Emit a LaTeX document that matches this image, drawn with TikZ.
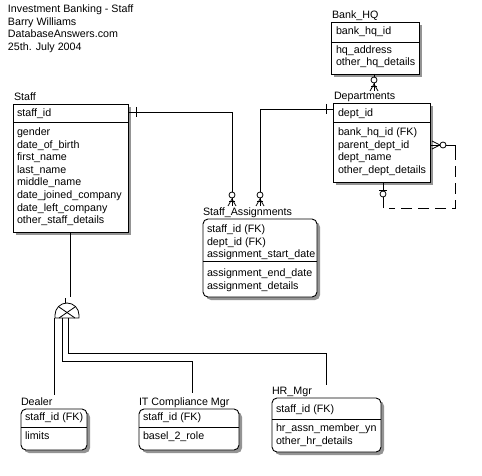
\documentclass[tikz,border=0pt]{standalone}
\usepackage{fontspec}
\setmainfont{Liberation Sans}
\usetikzlibrary{shadows,calc}
\begin{document}
\begin{tikzpicture}[x=1pt,y=-1pt,line width=0.8pt,
  every node/.style={inner sep=0pt,outer sep=0pt},
  txt/.style={anchor=base west,font=\fontsize{10.7}{12.5}\selectfont},
  ebox/.style={draw,fill=white,anchor=north west,line width=0.9pt,
    drop shadow={shadow xshift=3pt,shadow yshift=-3pt,fill=black!42,opacity=1}},
  rbox/.style={ebox,rounded corners=5pt},
  conn/.style={line width=0.8pt},
  nonid/.style={line width=0.8pt,dash pattern=on 11pt off 6pt},
  zmany/.pic={
    \draw[line width=0.8pt] (-4,0) -- (0,-7) -- (4,0);
    \draw[line width=0.8pt] (-3,-5) -- (3,-5);
    \draw[line width=0.8pt,fill=white] (0,-11) circle[radius=3];
  }
]
\fill[white] (0,0) rectangle (482,476);
\useasboundingbox (0,0) rectangle (482,476);

% title
\node[txt] (title1) at (8,13) {Investment Banking - Staff};
\node[txt] (title2) at (8,25.5) {Barry Williams};
\node[txt] (title3) at (8,38) {DatabaseAnswers.com};
\node[txt] (title4) at (8,50.5) {25th. July 2004};

% Staff
\node[ebox,minimum width=115,minimum height=128] (staff) at (13,104) {};
\draw[line width=0.9pt] (13,122) -- (128,122);
\node[txt] (staffL) at (14,101) {Staff};
\node[txt] (staff0) at (17,116.5) {staff\_id};
\node[txt] (staff1) at (17,135.5) {gender};
\node[txt] (staff2) at (17,148.1) {date\_of\_birth};
\node[txt] (staff3) at (17,160.7) {first\_name};
\node[txt] (staff4) at (17,173.3) {last\_name};
\node[txt] (staff5) at (17,185.9) {middle\_name};
\node[txt] (staff6) at (17,198.5) {date\_joined\_company};
\node[txt] (staff7) at (17,211.1) {date\_left\_company};
\node[txt] (staff8) at (17,223.7) {other\_staff\_details};

% Bank_HQ
\node[ebox,minimum width=88,minimum height=52] (bank) at (331,22) {};
\draw[line width=0.9pt] (331,42) -- (419,42);
\node[txt] (bankL) at (332,18.5) {Bank\_HQ};
\node[txt] (bank0) at (336,34.5) {bank\_hq\_id};
\node[txt] (bank1) at (336,53.5) {hq\_address};
\node[txt] (bank2) at (336,66) {other\_hq\_details};

% Departments
\node[ebox,minimum width=97,minimum height=79] (dept) at (333,103) {};
\draw[line width=0.9pt] (333,122) -- (430,122);
\node[txt] (deptL) at (334,100) {Departments};
\node[txt] (dept0) at (338,116.5) {dept\_id};
\node[txt] (dept1) at (338,135.5) {bank\_hq\_id (FK)};
\node[txt] (dept2) at (338,148.1) {parent\_dept\_id};
\node[txt] (dept3) at (338,160.7) {dept\_name};
\node[txt] (dept4) at (338,173.3) {other\_dept\_details};

% Staff_Assignments
\node[rbox,minimum width=114,minimum height=78] (sa) at (203,219) {};
\draw[line width=0.9pt] (203,261) -- (317,261);
\node[txt] (saL) at (203,215.5) {Staff\_Assignments};
\node[txt] (sa0) at (207,232.5) {staff\_id (FK)};
\node[txt] (sa1) at (207,245.1) {dept\_id (FK)};
\node[txt] (sa2) at (207,257.5) {assignment\_start\_date};
\node[txt] (sa3) at (207,276.5) {assignment\_end\_date};
\node[txt] (sa4) at (207,289.1) {assignment\_details};

% Dealer
\node[rbox,minimum width=66,minimum height=41] (dealer) at (21,409) {};
\draw[line width=0.9pt] (21,427) -- (87,427);
\node[txt] (dealerL) at (21,405) {Dealer};
\node[txt] (dealer0) at (25,420.5) {staff\_id (FK)};
\node[txt] (dealer1) at (25,439.5) {limits};

% IT Compliance Mgr
\node[rbox,minimum width=100,minimum height=41] (itm) at (139,409) {};
\draw[line width=0.9pt] (139,427) -- (239,427);
\node[txt] (itmL) at (139,405) {IT Compliance Mgr};
\node[txt] (itm0) at (143,420.5) {staff\_id (FK)};
\node[txt] (itm1) at (143,439.5) {basel\_2\_role};

% HR_Mgr
\node[rbox,minimum width=109,minimum height=54] (hr) at (272,398) {};
\draw[line width=0.9pt] (272,419) -- (381,419);
\node[txt] (hrL) at (272,394.5) {HR\_Mgr};
\node[txt] (hr0) at (276,412) {staff\_id (FK)};
\node[txt] (hr1) at (276,431.5) {hr\_assn\_member\_yn};
\node[txt] (hr2) at (276,444) {other\_hr\_details};

% connector end points
\coordinate (saA) at (232,206);
\coordinate (saB) at (260,206);
\coordinate (deptTop) at (374,91);
\coordinate (genTop) at (65,303);
\coordinate (genC) at (67,315);
\coordinate (dlEnd) at (54,395);
\coordinate (itEnd) at (192,393);
\coordinate (hrEnd) at (326,385);

% Staff -> Staff_Assignments
\draw[conn] ($(staff.north east)+(0,8)$) -| (saA);
\draw[conn] ($(staff.north east)+(8,3)$) -- ++(0,10);
\pic at (saA) {zmany};

% Departments -> Staff_Assignments
\draw[conn] ($(dept.north west)+(0,6)$) -| (saB);
\draw[conn] ($(dept.north west)+(-7,1)$) -- ++(0,10);
\pic at (saB) {zmany};

% Bank_HQ -> Departments
\draw[conn] (bank.south -| deptTop) -- (deptTop);
\pic at (deptTop) {zmany};

% Departments recursive (parent)
\draw[conn] ($(dept.north east)+(0,42)$) -- ++(25,0) -- ++(0,4);
\draw[nonid] ($(dept.north east)+(25,46)$) -- ++(0,59) -- ++(-66,0);
\draw[conn] ($(dept.south west)+(50,26)$) -- ($(dept.south west)+(50,0)$);
\draw[conn] ($(dept.north east)+(2,38)$) -- ($(dept.north east)+(10,42)$) -- ($(dept.north east)+(2,46)$);
\draw[conn] ($(dept.north east)+(10,42)$) -- ($(dept.north east)+(2,42)$);
\draw[conn,fill=white] ($(dept.north east)+(13,42)$) circle[radius=3];
\draw[conn] ($(dept.south west)+(46,8)$) -- ++(8,0);
\draw[conn,fill=white] ($(dept.south west)+(50,12)$) circle[radius=3];

% Staff -> subtypes
\draw[conn] ($(staff.south west)+(57,0)$) -- ++(0,65);
\draw[conn] ($(genTop)+(0,-5)$) -- (genTop);
\draw[conn] (55,318) -- (55,315) arc[start angle=180,end angle=360,radius=12] -- (79,318) -- cycle;
\draw[conn] (59,307) -- (75,318);
\draw[conn] (75,307) -- (59,318);
\draw[conn] (54,318) -- (dlEnd);
\draw[conn] (62,318) |- (192,361) -- (itEnd);
\draw[conn] (68,318) |- (326,353) -- (hrEnd);
\end{tikzpicture}
\end{document}
